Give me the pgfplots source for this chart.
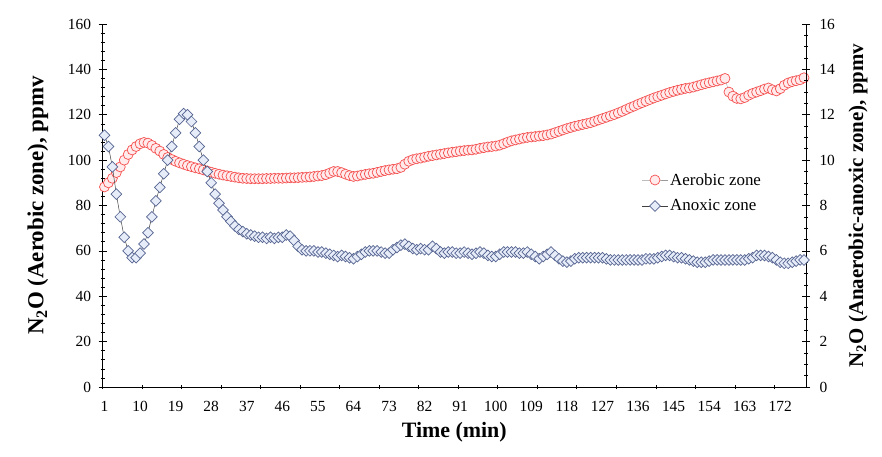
\documentclass[border=0pt]{standalone}
\usepackage{fontspec}
\setmainfont{Liberation Serif}
\usepackage{pgfplots}
\pgfplotsset{compat=1.18}
\usepackage{pgfplotstable}

\definecolor{aerored}{RGB}{245,80,80}
\definecolor{aerofill}{RGB}{255,235,235}
\definecolor{anoxedge}{RGB}{85,100,145}
\definecolor{anoxfill}{RGB}{230,236,248}

\pgfplotstableread{
t v
1 88.2
2 90
3 92
4 94.5
5 97
6 100
7 102.5
8 104.5
9 106
10 107.2
11 107.8
12 107.5
13 106.5
14 105.2
15 104
16 102.5
17 101.2
18 100.3
19 99.5
20 98.8
21 98.2
22 97.6
23 97.1
24 96.6
25 96.2
26 95.7
27 95.2
28 94.7
29 94.2
30 93.8
31 93.4
32 93.1
33 92.8
34 92.5
35 92.2
36 92.0
37 91.9
38 91.8
39 91.8
40 91.8
41 91.8
42 91.9
43 91.9
44 92.0
45 92.0
46 92.0
47 92.1
48 92.2
49 92.2
50 92.3
51 92.4
52 92.5
53 92.6
54 92.8
55 93.0
56 93.2
57 93.6
58 94.3
59 95.0
60 95.0
61 94.5
62 93.8
63 93.2
64 92.8
65 93.0
66 93.4
67 93.7
68 94.0
69 94.2
70 94.6
71 95.0
72 95.4
73 95.7
74 96.0
75 96.2
76 96.8
77 98.2
78 99.5
79 100.2
80 100.6
81 100.9
82 101.3
83 101.7
84 102.0
85 102.3
86 102.6
87 102.9
88 103.2
89 103.5
90 103.7
91 104.0
92 104.2
93 104.4
94 104.5
95 104.8
96 105.2
97 105.5
98 105.8
99 106.0
100 106.2
101 106.6
102 107.2
103 107.9
104 108.5
105 108.9
106 109.3
107 109.7
108 110.0
109 110.2
110 110.4
111 110.6
112 110.8
113 111.1
114 111.5
115 112.1
116 112.7
117 113.3
118 113.9
119 114.4
120 114.9
121 115.3
122 115.7
123 116.1
124 116.5
125 117.1
126 117.7
127 118.3
128 118.9
129 119.5
130 120.1
131 120.8
132 121.5
133 122.3
134 123.1
135 123.8
136 124.6
137 125.3
138 126.0
139 126.7
140 127.4
141 128.0
142 128.6
143 129.2
144 129.8
145 130.3
146 130.8
147 131.2
148 131.6
149 131.8
150 132.2
151 132.7
152 133.2
153 133.7
154 134.1
155 134.5
156 134.9
157 135.3
158 136.0
159 130.0
160 128.2
161 127.2
162 127.0
163 127.6
164 128.6
165 129.4
166 130.0
167 130.6
168 131.3
169 131.8
170 131.0
171 130.5
172 131.5
173 133.0
174 134.0
175 134.6
176 135.0
177 135.4
178 136.3
}\aerobic

\pgfplotstableread{
t v
1 11.1
2 10.6
3 9.7
4 8.5
5 7.5
6 6.6
7 6.0
8 5.7
9 5.7
10 5.9
11 6.3
12 6.8
13 7.5
14 8.2
15 8.8
16 9.4
17 10.0
18 10.6
19 11.2
20 11.8
21 12.05
22 12.0
23 11.7
24 11.2
25 10.6
26 10.0
27 9.5
28 9.0
29 8.5
30 8.1
31 7.8
32 7.5
33 7.3
34 7.1
35 6.95
36 6.85
37 6.75
38 6.7
39 6.65
40 6.6
41 6.6
42 6.55
43 6.6
44 6.55
45 6.6
46 6.6
47 6.7
48 6.65
49 6.45
50 6.2
51 6.05
52 6.0
53 6.0
54 6.0
55 5.95
56 5.95
57 5.9
58 5.85
59 5.8
60 5.75
61 5.8
62 5.75
63 5.7
64 5.65
65 5.75
66 5.85
67 5.95
68 6.0
69 6.0
70 6.0
71 5.95
72 5.9
73 5.9
74 6.05
75 6.15
76 6.25
77 6.3
78 6.2
79 6.1
80 6.05
81 6.1
82 6.05
83 6.05
84 6.2
85 6.1
86 5.95
87 5.9
88 5.95
89 5.95
90 5.9
91 5.9
92 5.95
93 5.9
94 5.85
95 5.9
96 5.95
97 5.9
98 5.8
99 5.75
100 5.75
101 5.85
102 5.95
103 5.95
104 5.95
105 5.95
106 5.9
107 5.9
108 5.95
109 5.85
110 5.75
111 5.65
112 5.75
113 5.85
114 5.95
115 5.8
116 5.65
117 5.55
118 5.5
119 5.55
120 5.65
121 5.7
122 5.7
123 5.7
124 5.7
125 5.7
126 5.7
127 5.7
128 5.65
129 5.6
130 5.6
131 5.6
132 5.6
133 5.6
134 5.6
135 5.6
136 5.6
137 5.6
138 5.65
139 5.65
140 5.65
141 5.7
142 5.75
143 5.8
144 5.8
145 5.75
146 5.7
147 5.7
148 5.65
149 5.6
150 5.55
151 5.5
152 5.5
153 5.5
154 5.55
155 5.6
156 5.6
157 5.6
158 5.6
159 5.6
160 5.6
161 5.6
162 5.6
163 5.6
164 5.65
165 5.7
166 5.8
167 5.8
168 5.8
169 5.75
170 5.7
171 5.6
172 5.5
173 5.45
174 5.45
175 5.5
176 5.55
177 5.6
178 5.6
}\anoxic

\pgfplotsset{
  aerostyle/.style={draw=gray!80, line width=0.4bp, mark=*, mark size=5bp,
    mark options={solid, draw=aerored, fill=aerofill, line width=0.7bp}},
  anoxstyle/.style={draw=black!75, line width=0.5bp, mark=square*, mark size=3.8bp,
    mark options={solid, rotate=45, draw=anoxedge, fill=anoxfill, line width=0.7bp}},
  common/.style={
    at={(102.5bp,70bp)}, anchor=south west,
    scale only axis, width=703.5bp, height=363bp,
    xmin=0.5, xmax=178.5,
    tick align=center,
    major tick length=8bp, minor tick length=4bp,
    every tick/.style={black, line width=0.6bp},
    axis line style={black, line width=0.8bp},
    tick label style={font=\fontsize{15.5}{18}\selectfont},
    /pgf/number format/assume math mode=true,
  }
}

\begin{document}
\begin{tikzpicture}
\useasboundingbox (0,0) rectangle (882bp,457bp);
\begin{axis}[common,
  ymin=0, ymax=160,
  axis x line*=bottom, axis y line*=left,
  xtick={1,10,...,172},
  major x tick style={draw=none},
  minor xtick={0.5,10.5,...,170.5},
  ytick={0,20,...,160}, minor y tick num=4,
  xticklabel style={yshift=-7bp},
  yticklabel style={xshift=-4bp},
  xlabel={Time (min)},
  xlabel style={font=\fontsize{22}{26}\selectfont\bfseries,
    at={(axis description cs:0.5,-0.124)}, anchor=center},
  ylabel={N\textsubscript{2}O (Aerobic zone), ppmv},
  ylabel style={font=\fontsize{23}{27}\selectfont\bfseries,
    at={(axis description cs:-0.0917,0.5)}, anchor=center},
]
\addplot[aerostyle] table {\aerobic};
\end{axis}
\begin{axis}[common,
  ymin=0, ymax=16,
  axis x line=none, axis y line*=right,
  ytick={0,2,...,16}, minor y tick num=3,
  yticklabel style={xshift=6bp},
  ylabel={N\textsubscript{2}O (Anaerobic-anoxic zone), ppmv},
  ylabel style={font=\fontsize{21}{25}\selectfont\bfseries,
    at={(axis description cs:1.074,0.5)}, anchor=center},
  legend style={draw=none, fill=none, at={(0.762,0.60)}, anchor=north west,
    font=\fontsize{17}{20}\selectfont, row sep=9bp,
    /tikz/every even column/.append style={column sep=2bp}},
  legend cell align=left,
  legend image code/.code={\draw[mark repeat=2, mark phase=2, #1] plot coordinates {(0bp,0bp) (13bp,0bp) (26bp,0bp)};},
]
\addlegendimage{aerostyle}
\addlegendentry{Aerobic zone}
\addplot[anoxstyle] table {\anoxic};
\addlegendentry{Anoxic zone}
\end{axis}
\end{tikzpicture}
\end{document}
